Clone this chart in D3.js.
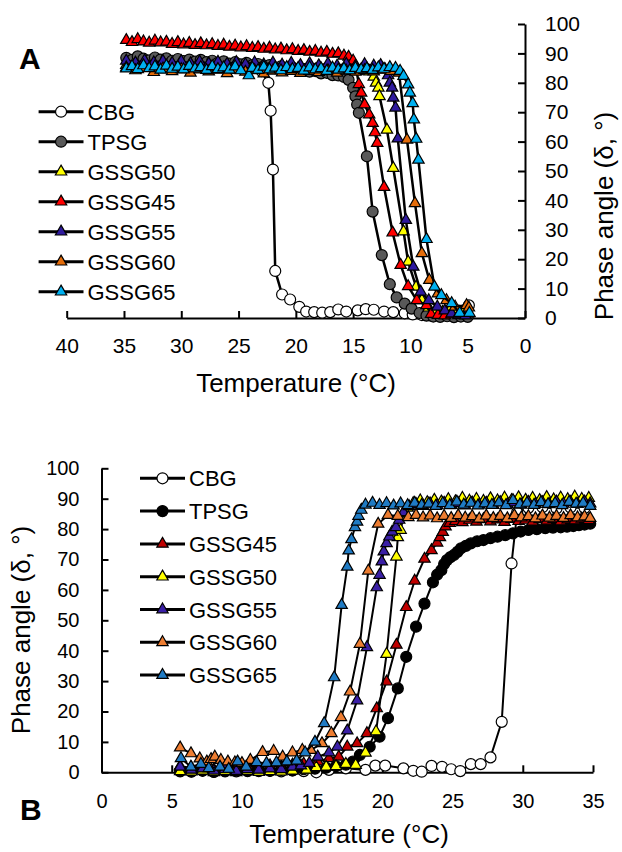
<!DOCTYPE html>
<html>
<head>
<meta charset="utf-8">
<script src="https://cdn.jsdelivr.net/npm/d3@7"></script>
<style>
body{margin:0;background:#fff}
text{font-family:"Liberation Sans",Arial,sans-serif;fill:#000}
</style>
</head>
<body>
<svg id="fig" width="622" height="852"></svg>
<script>
// ---- tick labels
const yTicks = [0,10,20,30,40,50,60,70,80,90,100];
const xTicksA = [40,35,30,25,20,15,10,5,0];
const xTicksB = [0,5,10,15,20,25,30,35];

// ---- panel A (cooling), [temperature, phase angle]
const namesA = ['CBG','TPSG','GSSG50','GSSG45','GSSG55','GSSG60','GSSG65'];
const cbgA = [[23.0,84],[22.4,80],[22.2,70.5],[22.0,50.5],[21.8,16],[21.2,8],[20.5,6.3],[19.7,3.8],[19.1,2.2],[18.4,2],[17.7,1.8],[17.0,2],
  [16.3,2.9],[15.6,2.2],[14.6,2.6],[13.9,3],[13.2,2.8],[12.3,2.2],[11.5,2],[10.5,1.6],[9.8,1.2],[9.0,1],[8.2,0.8],[7.4,1.2],[6.6,1.5],[5.8,2.5],[4.9,4.3]];
const tpsgA = [[34.8,88.5],[34.3,87.8],[33.8,89],[33.3,88.2],[32.8,87.6],[32.3,88.6],[31.8,87.9],[31.3,88.3],[30.8,87.5],[30.3,88.1],
  [29.8,87.4],[29.3,87.9],[28.8,87.2],[28.3,87.8],[27.8,87],[27.3,87.5],[26.8,86.8],[26.3,87.3],[25.8,86.5],[25.3,87],[24.8,86.3],
  [24.3,86.8],[23.8,86],[23.3,86.4],[22.8,85.6],[22.3,86],[21.8,85.2],[21.3,85.6],[20.8,84.8],[20.3,85.2],[19.8,84.3],[19.3,84.6],
  [18.8,83.8],[18.3,84],[17.8,83.2],[17.3,83.4],[16.8,82.6],[16.3,82.5],[15.8,82],[15.4,81],[15.0,78.3],[14.8,75.4],[14.65,72.6],
  [14.5,69.8],[13.8,55],[13.3,36.2],[12.5,21.4],[11.8,11.5],[11.2,7],[10.5,4.9],[9.9,3.2],[9.2,1.7],[8.6,0.8],[8.0,0.5],[7.4,0.4],
  [6.8,0.6],[6.2,0.3],[5.6,0.5],[5.0,0.4]];
const gssg50A = [[34.8,86],[34.0,86.6],[33.2,85.8],[32.4,86.4],[31.6,85.6],[30.8,86.2],[30.0,85.5],[29.2,86.1],[28.4,85.4],[27.6,86],
  [26.8,85.3],[26.0,85.9],[25.2,85.2],[24.4,85.8],[23.6,85.1],[22.8,85.7],[22.0,85],[21.2,85.6],[20.4,84.9],[19.6,85.5],[18.8,84.8],
  [18.0,85.4],[17.2,84.7],[16.4,85.3],[15.6,84.6],[14.8,85.2],[14.2,84.8],[13.6,83.8],[13.2,82],[13.0,80],[12.8,78.3],[12.7,75.4],
  [12.05,64],[11.5,51],[10.6,29.4],[10.2,19.1],[9.5,10.6],[9.0,6],[8.4,3.5],[7.8,2.5],[7.2,2],[6.6,2.4],[6.0,1.8],[5.4,2],[4.9,1.5]];
const gssg45A = [[34.8,94.5],[34.3,93.8],[33.8,94.8],[33.3,94],[32.8,93.6],[32.3,94.3],[31.8,93.7],[31.3,93.9],[30.8,93.2],[30.3,93.8],
  [29.8,93],[29.3,93.5],[28.8,92.8],[28.3,93.4],[27.8,92.7],[27.3,93.1],[26.8,92.5],[26.3,92.9],[25.8,92.2],[25.3,92.6],[24.8,92],
  [24.3,92.4],[23.8,91.8],[23.3,92.1],[22.8,91.5],[22.3,91.9],[21.8,91.3],[21.3,91.6],[20.8,91],[20.3,91.4],[19.8,90.8],[19.3,91.1],
  [18.8,90.5],[18.3,90.8],[17.8,90.2],[17.3,90.5],[16.8,89.8],[16.3,90],[15.8,89.2],[15.4,88.8],[15.0,87.5],[14.7,84],[14.5,79.5],
  [14.3,76.6],[14.0,72.6],[13.6,69.2],[13.3,66.3],[13.1,63.1],[12.9,59.5],[12.3,44.5],[11.55,29],[10.85,18],[10.2,10.8],[9.45,6],
  [8.6,4.3],[8.2,1.3],[7.6,1],[7.0,0.8],[6.4,1.2],[5.8,0.9],[5.2,1]];
const gssg55A = [[34.8,87.5],[34.0,86.8],[33.2,87.6],[32.4,86.9],[31.6,87.4],[30.8,86.7],[30.0,87.3],[29.2,86.6],[28.4,87.2],[27.6,86.5],
  [26.8,87.1],[26.0,86.4],[25.2,87],[24.4,86.3],[23.6,86.9],[22.8,86.2],[22.0,86.8],[21.2,86.1],[20.4,86.7],[19.6,86],[18.8,86.6],
  [18.0,85.9],[17.2,86.5],[16.4,85.8],[15.6,86.4],[14.8,85.7],[14.0,86.3],[13.2,85.8],[12.6,86],[12.2,84.5],[11.95,82.5],[11.8,80],
  [11.6,78.3],[11.5,74.9],[11.3,71.5],[11.1,61],[10.4,33.3],[9.75,17.4],[9.1,8.9],[8.4,6],[7.65,3.8],[7.0,2.5],[6.4,1.5],[5.8,1.2],[5.2,0.8]];
const gssg60A = [[34.8,85.2],[34.0,84.2],[33.2,85],[32.4,83.6],[31.6,84.8],[30.8,83.9],[30.0,84.6],[29.2,83.4],[28.4,84.5],[27.6,83.8],
  [26.8,84.4],[26.0,83.2],[25.2,84.3],[24.4,83.7],[23.6,84.2],[22.8,83.1],[22.0,84.1],[21.2,83.5],[20.4,84],[19.6,83.3],[18.8,84],
  [18.0,83.6],[17.2,84.2],[16.4,83.4],[15.6,84.1],[14.8,83.7],[14.0,84.3],[13.2,83.8],[12.4,84.4],[11.7,84],[11.0,83.4],[10.3,60.6],
  [9.6,39],[9.0,22],[8.35,12.9],[7.6,8.3],[6.85,6],[6.1,3.8],[5.1,4.3],[4.9,3.5]];
const gssg65A = [[34.8,84.8],[34.3,85.6],[33.8,84.6],[33.3,85.9],[32.8,84.9],[32.3,85.5],[31.8,84.4],[31.3,85.8],[30.8,84.7],[30.3,85.4],
  [29.8,84.5],[29.3,85.7],[28.8,84.8],[28.3,85.3],[27.8,84.3],[27.3,85.6],[26.8,84.6],[26.3,85.2],[25.8,84.4],[25.3,85.5],[24.8,84.2],
  [24.1,82.5],[23.8,85],[23.3,84.3],[22.8,85.4],[22.3,84.5],[21.8,85.1],[21.3,84.2],[20.8,85.3],[20.3,84.6],[19.8,85],[19.3,84.1],
  [18.8,85.2],[18.3,84.5],[17.8,84.9],[17.3,84],[16.8,85.1],[16.3,84.4],[15.8,84.8],[15.3,84.2],[14.8,85],[14.3,84.5],[13.8,84.9],
  [13.3,84.3],[12.8,85.2],[12.3,84.7],[11.8,85.3],[11.3,85],[10.9,84],[10.6,82.3],[10.2,79.4],[10.05,76.6],[9.8,73],[9.7,67.5],
  [9.5,60.9],[9.3,53.8],[8.6,26.8],[7.9,10.6],[7.3,7.7],[6.4,5],[5.7,1.7],[4.85,1.7]];

// ---- panel B (heating)
const namesB = ['CBG','TPSG','GSSG45','GSSG50','GSSG55','GSSG60','GSSG65'];
const cbgB = [[5.6,0.5],[6.4,0.3],[7.2,0.6],[8.0,0.2],[8.8,0.5],[9.6,0.3],[10.4,0.6],[11.2,0.4],[12.0,0.5],[12.8,0.3],[13.6,0.6],
  [14.4,0.4],[15.3,0],[16.2,0.8],[17.4,1.3],[18.8,0.8],[19.5,2.2],[20.2,2.2],[21.5,1.3],[22.2,0.5],[22.8,0.2],[23.5,2.1],[24.25,1.8],
  [24.9,1],[25.55,0.4],[26.3,2.7],[27.0,2.7],[27.7,4.9],[28.5,16.6],[29.2,68.7],[29.6,85.5],[30.4,87],[31.4,87.2],[32.4,86.8],
  [33.4,87.1],[34.4,86.9]];
const tpsgB = [[5.6,0.3],[6.4,0.2],[7.2,0.5],[8.0,0.1],[8.8,0.3],[9.6,0.6],[10.4,0.4],[11.2,0.7],[12.0,0.5],[12.8,0.8],[13.6,0.6],
  [14.4,1],[15.2,1.2],[16.0,1.5],[16.7,2],[17.4,2.5],[17.9,3.5],[18.4,5.7],[19.1,8.4],[19.8,11.7],[20.4,17.8],[21.1,27.6],[21.7,38],
  [22.4,47.9],[23.0,55.5],[23.6,62.5],[23.9,65],[24.2,66.5],[24.4,68.5],[24.6,69.8],[24.85,70.8],[25.1,71.5],[25.35,72.5],[25.6,73.7],
  [25.95,74.5],[26.3,75.3],[26.75,76],[27.2,76.4],[27.7,77],[28.2,77.5],[28.75,78],[29.3,78.6],[29.85,79.2],[30.4,79.7],[31.0,80],
  [31.6,80.3],[32.15,80.5],[32.7,80.6],[33.15,80.8],[33.6,81],[34.0,81.3],[34.4,81.5],[34.8,81.8]];
const gssg45B = [[5.6,2],[6.4,1.5],[7.2,2.5],[8.0,1],[8.8,1.8],[9.6,1.2],[10.4,2],[11.2,1.5],[12.0,2.2],[12.8,1.8],[13.6,2.5],[14.4,2.8],
  [15.4,3.5],[16.2,4.6],[16.9,5.1],[17.5,8.4],[18.2,9.5],[18.9,12.8],[19.6,21],[20.3,29.8],[21.0,41.9],[21.7,54.3],[22.3,63],
  [23.0,70.2],[23.5,73],[23.9,75.5],[24.1,77.3],[24.3,79],[24.5,80.8],[24.8,82],[25.2,82.6],[25.7,82.2],[26.2,83],[26.7,82.4],
  [27.2,83.2],[27.7,82.5],[28.2,83.1],[28.7,82.3],[29.2,83.3],[29.7,82.6],[30.2,83],[30.7,82.4],[31.2,83.2],[31.7,82.7],[32.2,83.3],
  [32.7,82.5],[33.2,83.1],[33.7,82.8],[34.2,83.4],[34.7,82.9]];
const gssg50B = [[5.6,0.3],[6.4,0.2],[7.2,0.5],[8.0,0],[8.8,0.3],[9.6,0],[10.4,0.4],[11.2,0.1],[12.0,0.3],[12.8,0.2],[13.6,0.5],
  [14.6,0.8],[15.3,1.6],[16.0,1.8],[16.7,2],[17.4,2.7],[18.1,2.4],[18.8,6.4],[19.55,13.4],[20.3,38.9],[21.0,70.9],[21.1,77.3],
  [21.3,79.7],[21.5,84],[21.8,87],[22.2,88.5],[22.7,89.4],[23.2,88.8],[23.7,89.6],[24.2,89],[24.7,89.8],[25.2,89.1],[25.7,90.2],
  [26.2,89.3],[26.7,89.9],[27.2,89.2],[27.7,90.1],[28.2,89.4],[28.7,90.3],[29.2,89.5],[29.7,90.4],[30.2,89.6],[30.7,90.2],[31.2,89.5],
  [31.7,90.5],[32.2,89.7],[32.7,90.3],[33.2,89.8],[33.7,90.6],[34.2,89.9],[34.7,90.2]];
const gssg55B = [[5.6,1.8],[6.4,0.8],[7.2,1.2],[8.0,0.5],[8.8,1],[9.6,0.4],[10.4,1],[11.2,0.8],[12.0,1.2],[12.8,1],[13.6,1.8],[14.2,2.2],
  [14.8,3],[15.4,5.1],[16.2,6.5],[16.8,8.4],[17.5,13.7],[18.2,23.6],[18.9,41.1],[19.6,60.8],[19.8,64.9],[19.96,69.3],[20.1,72.6],
  [20.3,75.3],[20.5,77.5],[20.7,79.1],[20.97,80.6],[21.2,83],[21.5,85.5],[21.9,87.5],[22.4,88.2],[22.9,87.6],[23.4,88.4],[23.9,87.8],
  [24.4,88.6],[24.9,87.9],[25.4,88.5],[25.9,87.7],[26.4,88.7],[26.9,88],[27.4,88.6],[27.9,87.9],[28.4,88.8],[28.9,88.1],[29.4,88.7],
  [29.9,88],[30.4,88.9],[30.9,88.2],[31.4,88.8],[31.9,88.1],[32.4,89],[32.9,88.3],[33.4,88.9],[33.9,88.2],[34.4,89],[34.8,88.4]];
const gssg60B = [[5.6,8.1],[6.37,6.2],[7.0,4.5],[7.5,3.5],[7.8,4.3],[8.07,5.1],[8.5,4],[9.0,3.5],[9.5,3.2],[10.0,3],[10.6,4],
  [11.47,6.6],[12.26,7],[12.9,5.1],[13.6,6.5],[14.3,7.3],[14.9,7.3],[15.7,9.5],[16.37,12.8],[17.05,18.1],[17.7,26.5],[18.4,42.2],
  [19.0,66.3],[19.7,81.7],[20.4,84.6],[21.1,84.3],[21.85,83.9],[22.4,84.6],[22.9,83.8],[23.4,84.4],[23.9,83.5],[24.4,84.3],[24.9,83.6],
  [25.4,84.5],[25.9,83.7],[26.4,84.2],[26.9,83.4],[27.4,84.4],[27.9,83.6],[28.4,84.3],[28.9,83.5],[29.4,84.5],[29.9,83.8],[30.4,84.2],
  [30.9,83.5],[31.4,84.4],[31.9,83.7],[32.4,84.3],[32.9,83.6],[33.4,84.5],[33.9,83.8],[34.4,84.1],[34.8,83.6]];
const gssg65B = [[5.66,4.6],[6.37,1.8],[7.08,2.7],[7.64,1.3],[8.44,1.8],[9.06,1.1],[9.69,3.5],[10.3,1.8],[11.05,3.3],[11.75,3],
  [12.46,3.2],[13.2,3.5],[13.9,3.8],[14.5,6.5],[15.2,10],[15.86,16.1],[16.57,31.2],[17.1,55],[17.5,67.6],[17.6,72.9],[17.8,76.6],
  [18.05,80.6],[18.2,82.4],[18.3,84.3],[18.5,86.3],[18.8,88],[19.3,88.6],[19.8,87.9],[20.3,88.5],[20.8,87.7],[21.3,88.4],[21.8,87.8],
  [22.3,88.6],[22.8,87.9],[23.3,88.3],[23.8,87.6],[24.3,88.5],[24.8,87.8],[25.3,89],[25.8,88],[26.3,88.6],[26.8,87.7],[27.3,88.4],
  [27.8,87.9],[28.3,88.7],[28.8,87.8],[29.3,89.5],[29.8,88.1],[30.3,88.6],[30.8,87.9],[31.3,88.8],[31.8,88.2],[32.3,88.5],[32.8,87.8],
  [33.3,88.9],[33.8,88.3],[34.3,88.6],[34.8,87.6]];

const font = '"Liberation Sans", Arial, sans-serif';
const svg = d3.select('#fig');

function marker(shape) {
  return shape === 'circle' ? d3.symbol(d3.symbolCircle, 95)() : d3.symbol(d3.symbolTriangle, 56)();
}

function drawPanel(p) {
  const x = d3.scaleLinear(p.xDomain, p.xRange);
  const y = d3.scaleLinear([0, 100], p.yRange);
  const g = svg.append('g');

  // x axis, ticks pointing into the plot
  const xAxis = d3.axisBottom(x).tickValues(p.xTicks).tickSizeInner(-7).tickSizeOuter(0)
                  .tickPadding(p.xPad).tickFormat(d3.format('d'));
  const xg = g.append('g').attr('transform', `translate(0,${y(0)})`).call(xAxis);

  // y axis sits at temperature 0 (right in A, left in B)
  const yAxis = (p.yRight ? d3.axisRight(y) : d3.axisLeft(y)).tickValues(yTicks)
                  .tickSizeInner(-7).tickSizeOuter(0).tickPadding(p.yPad);
  const yg = g.append('g').attr('transform', `translate(${x(0)},0)`).call(yAxis);

  [xg, yg].forEach(a => {
    a.select('.domain').attr('stroke', '#000').attr('stroke-width', 2);
    a.selectAll('.tick line').attr('stroke', '#000').attr('stroke-width', 2);
    a.selectAll('text').attr('font-family', font).attr('font-size', p.tickFont).attr('fill', '#000');
  });

  // series: line then markers, in legend order
  const line = d3.line().x(d => x(d[0])).y(d => y(d[1]));
  p.series.forEach((s, i) => {
    const st = p.styles[i];
    g.append('path').datum(s).attr('d', line)
      .attr('fill', 'none').attr('stroke', '#000').attr('stroke-width', p.lw);
    g.append('g').selectAll('path').data(s).join('path')
      .attr('transform', d => `translate(${x(d[0])},${y(d[1])})`)
      .attr('d', marker(st.shape))
      .attr('fill', st.color).attr('stroke', '#000').attr('stroke-width', 1.2);
  });

  // legend
  const lg = g.append('g');
  p.names.forEach((n, i) => {
    const st = p.styles[i];
    const ly = p.legend.y0 + i * p.legend.dy;
    lg.append('line').attr('x1', p.legend.x0).attr('x2', p.legend.x1).attr('y1', ly).attr('y2', ly)
      .attr('stroke', '#000').attr('stroke-width', 3);
    lg.append('path').attr('transform', `translate(${(p.legend.x0 + p.legend.x1) / 2},${ly})`)
      .attr('d', marker(st.shape)).attr('fill', st.color).attr('stroke', '#000').attr('stroke-width', 1.2);
    lg.append('text').attr('x', p.legend.x1 + 4).attr('y', ly + 8)
      .attr('font-size', 22).text(n);
  });

  // axis titles and panel letter
  g.append('text').attr('x', p.xTitle[0]).attr('y', p.xTitle[1]).attr('text-anchor', 'middle')
    .attr('font-size', 26).text('Temperature (°C)');
  g.append('text').attr('transform', `translate(${p.yTitle[0]},${p.yTitle[1]}) rotate(-90)`)
    .attr('text-anchor', 'middle').attr('font-size', 26).text('Phase angle (δ, °)');
  g.append('text').attr('x', p.letter[0]).attr('y', p.letter[1]).attr('font-size', 30)
    .attr('font-weight', 'bold').text(p.letterText);
}

drawPanel({
  names: namesA,
  series: [cbgA, tpsgA, gssg50A, gssg45A, gssg55A, gssg60A, gssg65A],
  styles: [
    {shape: 'circle', color: '#ffffff'}, {shape: 'circle', color: '#595959'},
    {shape: 'tri', color: '#ffff00'}, {shape: 'tri', color: '#ff0000'},
    {shape: 'tri', color: '#2f1a9e'}, {shape: 'tri', color: '#e46c0a'},
    {shape: 'tri', color: '#00b0f0'}
  ],
  xDomain: [40, 0], xRange: [66.7, 525], yRange: [318, 24],
  xTicks: xTicksA, yRight: true, xPad: 20, yPad: 20, tickFont: 21, lw: 2.5,
  legend: {x0: 38.6, x1: 83.5, y0: 111.7, dy: 30},
  xTitle: [296, 392], yTitle: [613, 216], letter: [19, 69], letterText: 'A'
});

drawPanel({
  names: namesB,
  series: [cbgB, tpsgB, gssg45B, gssg50B, gssg55B, gssg60B, gssg65B],
  styles: [
    {shape: 'circle', color: '#ffffff'}, {shape: 'circle', color: '#000000'},
    {shape: 'tri', color: '#c00000'}, {shape: 'tri', color: '#ffff00'},
    {shape: 'tri', color: '#3a1fa6'}, {shape: 'tri', color: '#ed7d31'},
    {shape: 'tri', color: '#1f7bc4'}
  ],
  xDomain: [0, 35], xRange: [101.5, 593], yRange: [772.3, 468.3],
  xTicks: xTicksB, yRight: false, xPad: 22, yPad: 22, tickFont: 20, lw: 2,
  legend: {x0: 140, x1: 185, y0: 478.3, dy: 32.8},
  xTitle: [349, 843], yTitle: [30, 630], letter: [20, 820], letterText: 'B'
});
</script>
</body>
</html>
